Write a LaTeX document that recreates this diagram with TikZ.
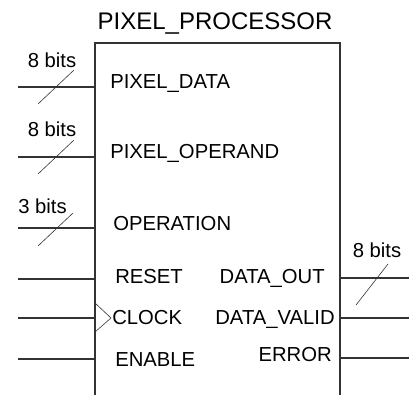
\documentclass[tikz,border=0pt]{standalone}
\usepackage{fontspec}
\setmainfont{Liberation Sans}
\begin{document}
\begin{tikzpicture}[x=0.75pt,y=-0.75pt,
  wire/.style={draw=black!80,line width=0.8pt},
  bus/.style={draw=black!80,line width=0.45pt},
  pin/.style={inner sep=0pt,font=\fontsize{15.2}{18}\selectfont},
  buslabel/.style={inner sep=0pt,anchor=base,font=\fontsize{15.2}{18}\selectfont}]
\useasboundingbox (0,0) rectangle (409,395);
% title
\node[inner sep=0pt,anchor=base,font=\fontsize{18}{22}\selectfont] (title) at (215,30) {PIXEL\_PROCESSOR};
% box (open at bottom)
\coordinate (bl) at (95,395);
\coordinate (tl) at (95,43);
\coordinate (tr) at (340,43);
\coordinate (br) at (340,395);
\draw[wire] (bl) -- (tl) -- (tr) -- (br);
% pin labels
\node[pin,anchor=base west] (pd) at (110,89) {PIXEL\_DATA};
\node[pin,anchor=base west] (po) at (110,158) {PIXEL\_OPERAND};
\node[pin,anchor=base west] (op) at (113,230) {OPERATION};
\node[pin,anchor=base west] (rs) at (115,283) {RESET};
\node[pin,anchor=base west] (ck) at (112,324) {CLOCK};
\node[pin,anchor=base west] (en) at (115,366) {ENABLE};
\node[pin,anchor=base east] (do) at (325,283) {DATA\_OUT};
\node[pin,anchor=base east] (dv) at (335,324) {DATA\_VALID};
\node[pin,anchor=base east] (er) at (332,361) {ERROR};
% input wires
\foreach \n/\y in {a/87,b/157,c/228,d/279,e/318,f/359}{
  \coordinate (in\n L) at (18,\y);
  \coordinate (in\n R) at (95,\y);
  \draw[wire] (in\n L) -- (in\n R);
}
% output wires
\foreach \n/\y in {a/278,b/318,c/358}{
  \coordinate (out\n L) at (340,\y);
  \coordinate (out\n R) at (409,\y);
  \draw[wire] (out\n L) -- (out\n R);
}
% clock triangle
\coordinate (ckt) at (95,303);
\coordinate (ckm) at (111,318);
\coordinate (ckb) at (95,332);
\draw[bus] (ckt) -- (ckm) -- (ckb);
% bus slashes
\coordinate (s1a) at (38,104); \coordinate (s1b) at (74,70);
\coordinate (s2a) at (38,174); \coordinate (s2b) at (74,140);
\coordinate (s3a) at (38,246); \coordinate (s3b) at (73,213);
\coordinate (s4a) at (356,305); \coordinate (s4b) at (388,264);
\draw[bus] (s1a) -- (s1b);
\draw[bus] (s2a) -- (s2b);
\draw[bus] (s3a) -- (s3b);
\draw[bus] (s4a) -- (s4b);
% bus widths
\node[buslabel] (b1) at (52,68) {8 bits};
\node[buslabel] (b2) at (52,137) {8 bits};
\node[buslabel] (b3) at (42.5,213) {3 bits};
\node[buslabel] (b4) at (377,257) {8 bits};
\end{tikzpicture}
\end{document}
